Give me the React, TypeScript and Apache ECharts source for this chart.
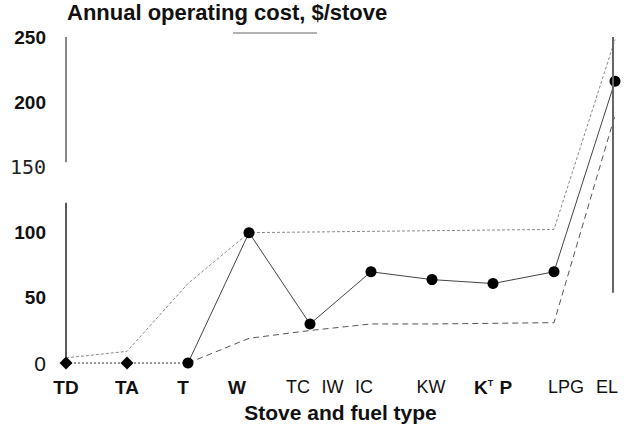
import React, { useEffect, useRef } from "react";
import * as echarts from "echarts";

// ---- data ----
const categories = ["TD", "TA", "T", "W", "TC", "IW", "IC", "KW", "KP", "LPG", "EL"];
const categoryPos = [0, 1, 2, 3, 4, 4.5, 5, 6, 7, 8, 9];

const startCats = ["TD", "TA", "T"];
const startValues = [0, 0, 0];

const mainCats = ["T", "W", "TC", "IC", "KW", "KP", "LPG", "EL"];
const mainValues = [0, 100, 30, 70, 64, 61, 70, 216];

const upperCats = ["TD", "TA", "T", "W", "LPG", "EL"];
const upperValues = [4, 9, 61, 100, 102.5, 248];

const lowerCats = ["T", "W", "TC", "IC", "KW", "KP", "LPG", "EL"];
const lowerValues = [0, 19, 25, 30, 30, 30.5, 31, 190];

const yTicks = [0, 50, 100, 150, 200, 250];

// ---- styles (not data) ----
const FONT = "'Liberation Sans', Arial, Helvetica, sans-serif";
const labelBold = [true, true, true, true, false, false, false, false, true, false, false];
const labelShift = [0, 0, -5, -12, -12, -8, -7, -1, 0, 12, -8];

const pos = (c: string) => categoryPos[categories.indexOf(c)];
const pairs = (cats: string[], vals: number[]) => cats.map((c, i) => [pos(c), vals[i]]);

export default function App() {
  const ref = useRef<HTMLDivElement>(null);
  useEffect(() => {
    document.body.style.margin = "0";
    const chart = echarts.init(ref.current!, null, { renderer: "svg" });

    const rich: any = {
      sup: { fontSize: 9, fontFamily: FONT, fontWeight: "bold", color: "#111", verticalAlign: "top", padding: [0, 1, 8, 0] },
    };
    categories.forEach((c, i) => {
      const s = labelShift[i];
      rich["l" + i] = {
        fontSize: labelBold[i] ? 19 : 18,
        fontFamily: FONT,
        fontWeight: labelBold[i] ? "bold" : "normal",
        color: "#111",
        padding: s < 0 ? [0, -2 * s, 0, 0] : [0, 0, 0, 2 * s],
      };
    });

    chart.setOption({
      animation: false,
      backgroundColor: "#fff",
      grid: { left: 66, right: 13, top: 37, bottom: 64 },
      graphic: [
        {
          type: "text",
          left: 67,
          top: 1,
          style: { text: "Annual operating cost, $/stove", font: `bold 22px ${FONT}`, fill: "#111" },
        },
        { type: "line", shape: { x1: 233, y1: 33, x2: 317, y2: 33 }, style: { stroke: "#666", lineWidth: 1 } },
      ],
      xAxis: {
        type: "value",
        min: 0,
        max: 9,
        interval: 0.5,
        splitLine: { show: false },
        axisLine: { show: false },
        axisTick: { show: false },
        name: "Stove and fuel type",
        nameLocation: "middle",
        nameGap: 37,
        nameTextStyle: { fontSize: 21, fontWeight: "bold", fontFamily: FONT, color: "#111" },
        axisLabel: {
          margin: 15,
          showMinLabel: true,
          showMaxLabel: true,
          rich,
          formatter: (v: number) => {
            const i = categoryPos.findIndex((p) => Math.abs(p - v) < 1e-6);
            if (i < 0) return "";
            if (categories[i] === "KP") return `{l${i}|K}{sup|T}{l${i}| P}`;
            return `{l${i}|${categories[i]}}`;
          },
        },
      },
      yAxis: {
        type: "value",
        min: 0,
        max: 250,
        interval: 50,
        splitLine: { show: false },
        axisLine: { show: false },
        axisTick: { show: false },
        axisLabel: {
          margin: 20,
          rich: {
            b: { fontSize: 19, fontWeight: "bold", fontFamily: FONT, color: "#111" },
            thin: { fontSize: 20, fontWeight: "normal", fontFamily: "'DejaVu Sans Mono', monospace", color: "#222" },
            reg: { fontSize: 21, fontWeight: "normal", fontFamily: FONT, color: "#111" },
          },
          formatter: (v: number) => {
            if (!yTicks.includes(v)) return "";
            if (v === 150) return `{thin|${v}}`;
            if (v === 0) return `{reg|${v}}`;
            return `{b|${v}}`;
          },
        },
      },
      series: [
        {
          name: "upper",
          type: "line",
          data: pairs(upperCats, upperValues),
          symbol: "none",
          lineStyle: { color: "#8a8a8a", width: 1, type: [3, 2] },
          z: 2,
        },
        {
          name: "lower",
          type: "line",
          data: pairs(lowerCats, lowerValues),
          symbol: "none",
          lineStyle: { color: "#555", width: 1, type: [6, 4] },
          z: 2,
        },
        {
          name: "start",
          type: "line",
          data: pairs(startCats, startValues).map((d, i) => ({
            value: d,
            symbol: i < 2 ? "diamond" : "none",
          })),
          symbolSize: 13,
          itemStyle: { color: "#000" },
          lineStyle: { color: "#444", width: 1.2, type: [2, 2] },
          z: 3,
        },
        {
          name: "main",
          type: "line",
          data: pairs(mainCats, mainValues),
          symbol: "circle",
          symbolSize: 11,
          itemStyle: { color: "#000" },
          lineStyle: { color: "#444", width: 1 },
          z: 4,
          markLine: {
            silent: true,
            symbol: "none",
            label: { show: false },
            data: [
              [
                { coord: [0, 250], lineStyle: { color: "#888", width: 2, type: "solid" } },
                { coord: [0, 154] },
              ],
              [
                { coord: [0, 123], lineStyle: { color: "#222", width: 1.5, type: "solid" } },
                { coord: [0, 4] },
              ],
              [
                { coord: [8.96, 250], lineStyle: { color: "#666", width: 2, type: "solid" } },
                { coord: [8.96, 54] },
              ],
            ],
          },
        },
      ],
    });
    return () => chart.dispose();
  }, []);
  return <div ref={ref} style={{ width: 628, height: 428 }} />;
}
